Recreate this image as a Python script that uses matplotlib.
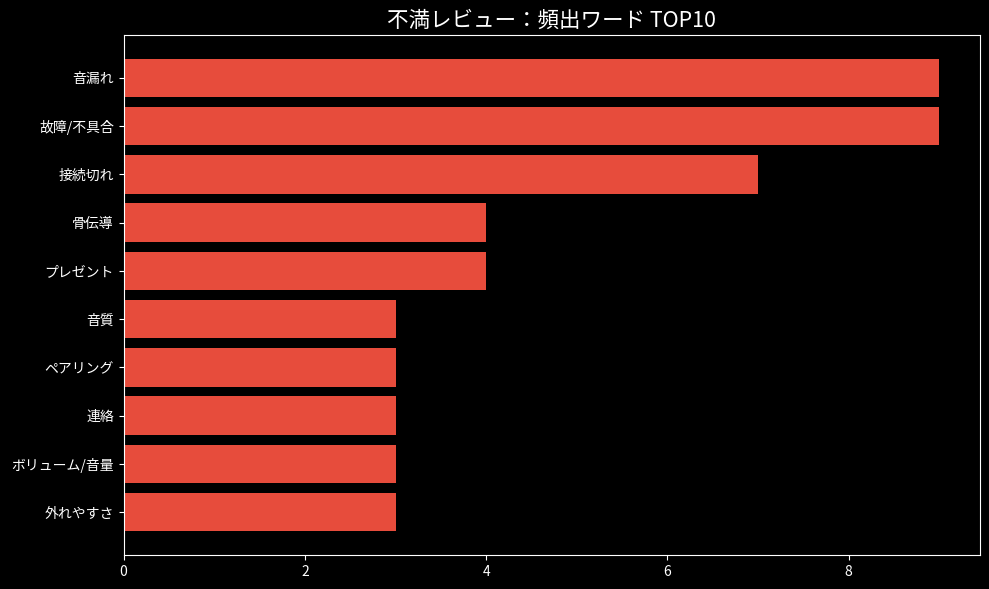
import matplotlib
matplotlib.use('Agg')
import matplotlib.pyplot as plt

# Data
words = ['音漏れ', '故障/不具合', '接続切れ', '骨伝導', 'プレゼント',
         '音質', 'ペアリング', '連絡', 'ボリューム/音量', '外れやすさ']
counts = [9, 9, 7, 4, 4, 3, 3, 3, 3, 3]

plt.style.use('dark_background')
plt.rcParams['font.family'] = ['Noto Sans CJK JP', 'DejaVu Sans']

fig, ax = plt.subplots(figsize=(9.89, 5.89), dpi=100)
fig.subplots_adjust(left=0.125, right=0.991, top=0.9406, bottom=0.0577)

# Plot (largest on top)
ax.barh(words[::-1], counts[::-1], color='#e74c3c')
ax.set_title('不満レビュー：頻出ワード TOP10', fontsize=15.5)
ax.tick_params(labelsize=10)

fig.savefig('out.png', dpi=100)
